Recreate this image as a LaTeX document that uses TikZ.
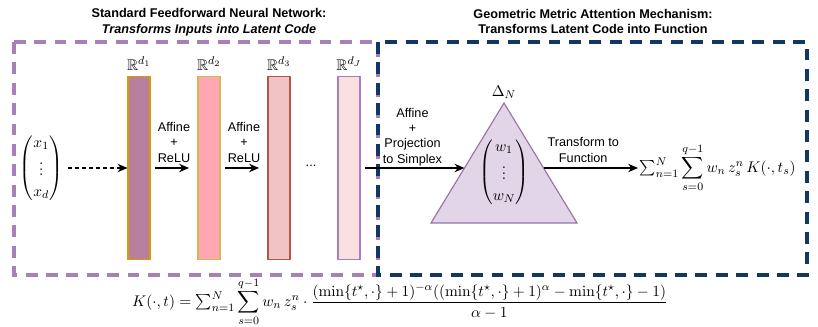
\documentclass[tikz,border=0pt,11pt]{standalone}
\usepackage{amsmath,amssymb}
\usepackage[no-math]{fontspec}
\newfontfamily\lblfont{Liberation Sans}
\usetikzlibrary{arrows.meta, positioning}

\definecolor{ffnnframe}{HTML}{A680B8}
\definecolor{gmaframe}{HTML}{123764}
\definecolor{layerA}{HTML}{B8809F}
\definecolor{layerAline}{HTML}{D79B00}
\definecolor{layerB}{HTML}{FFA8B4}
\definecolor{layerBline}{HTML}{D6B656}
\definecolor{layerC}{HTML}{F0C4C4}
\definecolor{layerCline}{HTML}{B85450}
\definecolor{layerD}{HTML}{F9E0DF}
\definecolor{layerDline}{HTML}{A680B8}
\definecolor{simplexfill}{HTML}{E1D5E7}
\definecolor{simplexline}{HTML}{9673A6}

\begin{document}
\begin{tikzpicture}[%
  frame/.style={line width=2.3pt, dash pattern=on 8.5pt off 6pt},%
  layer/.style={line width=0.8pt, minimum width=0.55cm, minimum height=4.575cm, inner sep=0pt},%
  link/.style={->, >={Stealth[length=7pt,width=6pt]}, thick},%
  lbl/.style={font=\lblfont\fontsize{9}{11}\selectfont, align=center},%
  heading/.style={font=\lblfont\bfseries\fontsize{9}{11}\selectfont, align=center}%
]
  \useasboundingbox (0,0) rectangle (20.45,-8.175);
  % Frames
  \draw[frame, draw=ffnnframe] (0.35,-1.05) rectangle (9.45,-6.875);
  \draw[frame, draw=gmaframe] (9.45,-1.05) rectangle (20.175,-6.875);
  \node[heading] (ttl-ffnn) at (5.225,-0.56) {Standard Feedforward Neural Network:\\\textit{Transforms Inputs into Latent Code}};
  \node[heading] (ttl-gma) at (14.825,-0.54) {Geometric Metric Attention Mechanism:\\Transforms Latent Code into Function};
  % Input
  \node (x) at (1.03,-4.2) {$\begin{pmatrix} x_1\\[1pt] \vdots\\[1pt] x_d \end{pmatrix}$};
  % Hidden layers
  \node[layer, fill=layerA, draw=layerAline] (h1) at (3.475,-4.2) {};
  \node[layer, fill=layerB, draw=layerBline] (h2) at (5.225,-4.2) {};
  \node[layer, fill=layerC, draw=layerCline] (h3) at (6.975,-4.2) {};
  \node[layer, fill=layerD, draw=layerDline] (h4) at (8.725,-4.2) {};
  \node[above=0pt of h1] (r1) {$\mathbb{R}^{d_1}$};
  \node[above=0pt of h2] (r2) {$\mathbb{R}^{d_2}$};
  \node[above=0pt of h3] (r3) {$\mathbb{R}^{d_3}$};
  \node[above=0pt of h4] (r4) {$\mathbb{R}^{d_J}$};
  \node[lbl] (dots) at (7.775,-4.15) {...};
  \draw[link, densely dashed] (x.east) -- (h1.west);
  \draw[link, shorten <=3pt, shorten >=6pt] (h1.east) -- node[lbl, above] {Affine\\+\\ReLU} (h2.west);
  \draw[link, shorten <=3pt, shorten >=6pt] (h2.east) -- node[lbl, above] {Affine\\+\\ReLU} (h3.west);
  % Simplex
  \coordinate (apex) at (12.6,-2.575);
  \coordinate (bl) at (10.775,-5.575);
  \coordinate (br) at (14.425,-5.575);
  \coordinate (tri-in) at (11.61,-4.2);
  \coordinate (tri-out) at (13.59,-4.2);
  \draw[draw=simplexline, fill=simplexfill, line width=0.8pt] (apex) -- (bl) -- (br) -- cycle;
  \node[above=-1pt of apex] (delta) {$\Delta_N$};
  \node (w) at (12.6,-4.3) {$\begin{pmatrix} w_1\\[1pt] \vdots\\[1pt] w_N \end{pmatrix}$};
  \draw[link, shorten <=3pt] (h4.east) -- node[lbl, above, inner sep=1pt] {Affine\\+\\Projection\\to Simplex} (tri-in);
  % Output function
  \node[anchor=west, inner sep=1pt] (out) at (15.95,-4.2) {$\textstyle\sum_{n=1}^N \displaystyle\sum_{s=0}^{q-1} w_n\, z_s^n\, K(\cdot,t_s)$};
  \draw[link] (tri-out) -- node[lbl, above, pos=0.42] {Transform to\\Function} (out.west);
  % Kernel
  \node (kernel) at (10.0,-7.55) {$K(\cdot,t)=\textstyle\sum_{n=1}^N \displaystyle\sum_{s=0}^{q-1} w_n\, z_s^n\cdot\frac{(\min\{t^\star,\cdot\}+1)^{-\alpha}((\min\{t^\star,\cdot\}+1)^{\alpha}-\min\{t^\star,\cdot\}-1)}{\alpha-1}$};
\end{tikzpicture}
\end{document}
